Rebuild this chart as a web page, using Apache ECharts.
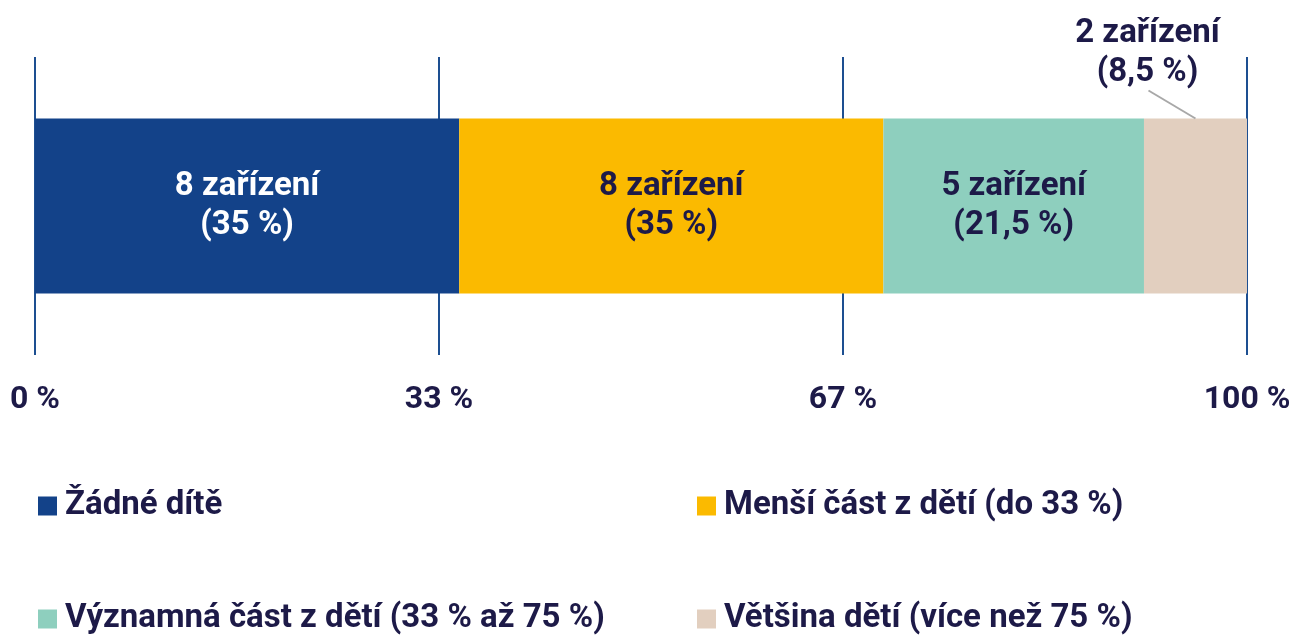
<!DOCTYPE html>
<html>
<head>
<meta charset="utf-8">
<script src="https://cdn.jsdelivr.net/npm/echarts@6/dist/echarts.min.js"></script>
<style>
  html, body { margin: 0; padding: 0; background: #fff; }
  #chart { width: 1295px; height: 635px; }
</style>
</head>
<body>
<div id="chart"></div>
<script>
// categories and values
const categories = ['Žádné dítě', 'Menší část z dětí (do 33 %)', 'Významná část z dětí (33 % až 75 %)', 'Většina dětí (více než 75 %)']
const shares = [35, 35, 21.5, 8.5]
const facilities = [8, 8, 5, 2]
const colors = ['#134289', '#fbba00', '#8ecfbe', '#e2cfbf']
const labelColors = ['#ffffff', '#1d1a48', '#1d1a48', '#1d1a48']

const textColor = '#1d1a48'
const fontFamily = 'Roboto, "Noto Sans", sans-serif'
const barWidth = 175

const fmtShare = v => String(v).replace('.', ',')

const chart = echarts.init(document.getElementById('chart'))

/* one stacked series per category */
const series = categories.map((name, i) => {
  const s = {
    name: name,
    type: 'bar',
    stack: 'all',
    barWidth: barWidth,
    itemStyle: { color: colors[i] },
    data: [shares[i]],
    label: {
      show: true,
      position: 'inside',
      color: labelColors[i],
      fontFamily: fontFamily,
      fontWeight: 'bold',
      fontSize: 33,
      lineHeight: 39,
      formatter: () => facilities[i] + ' zařízení\n(' + fmtShare(shares[i]) + ' %)'
    }
  }
  if (i === 3) {
    // small segment: label sits above, shifted left
    s.label.position = 'top'
    s.label.distance = 26
    s.labelLayout = { dx: -48 }
  }
  return s
})

const legendText = {
  color: textColor, fontFamily: fontFamily, fontWeight: 'bold',
  fontSize: 33, lineHeight: 34, padding: [0, 0, 0, 3]
}

const option = {
  animation: false,
  grid: { left: 35, right: 48, top: 57, bottom: 280 },
  xAxis: {
    type: 'value',
    min: 0,
    max: 100,
    interval: 100 / 3,
    axisLine: { show: false },
    axisTick: { show: false },
    splitLine: { show: true, lineStyle: { color: '#1d4f91', width: 2 } },
    axisLabel: {
      margin: 29,
      color: textColor,
      fontFamily: fontFamily,
      fontWeight: 'bold',
      fontSize: 32,
      formatter: v => Math.round(v) + ' %'
    }
  },
  yAxis: {
    type: 'category',
    data: [''],
    axisLine: { show: false },
    axisTick: { show: false },
    axisLabel: { show: false }
  },
  legend: [
    {
      left: 38,
      top: 489,
      height: 200,
      padding: 0,
      orient: 'vertical',
      itemGap: 79,
      itemWidth: 19,
      itemHeight: 19,
      icon: 'rect',
      data: [categories[0], categories[2]],
      textStyle: legendText
    },
    {
      left: 697,
      top: 489,
      height: 200,
      padding: 0,
      orient: 'vertical',
      itemGap: 79,
      itemWidth: 19,
      itemHeight: 19,
      icon: 'rect',
      data: [categories[1], categories[3]],
      textStyle: legendText
    }
  ],
  series: series
}

chart.setOption(option)

/* leader line for the small segment, placed through the axes */
const last = shares.length - 1
const start = shares.slice(0, last).reduce((a, b) => a + b, 0)
const mid = chart.convertToPixel({ gridIndex: 0 }, [start + shares[last] / 2, 0])
const barTop = mid[1] - barWidth / 2
chart.setOption({
  graphic: [{
    type: 'line',
    shape: { x1: mid[0] - 47, y1: barTop - 28, x2: mid[0], y2: barTop },
    style: { stroke: '#a8a8a8', lineWidth: 2 },
    z: 10
  }]
})
</script>
</body>
</html>
